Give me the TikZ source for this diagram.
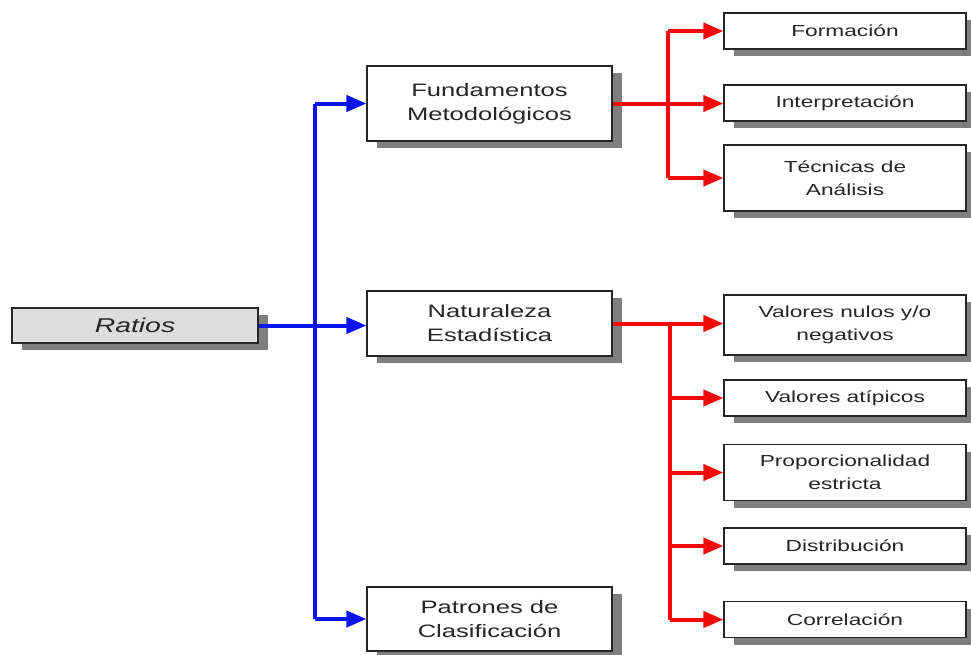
\documentclass[tikz,border=0pt]{standalone}
\usepackage{fontspec}
\setmainfont{Liberation Sans}[FakeStretch=1.42]
\usetikzlibrary{arrows.meta,shadows}
\definecolor{txt}{HTML}{262626}
\definecolor{shd}{HTML}{7F7F7F}
\definecolor{rfill}{HTML}{DDDDDD}
\definecolor{bblue}{HTML}{0A14F0}
\definecolor{rred}{HTML}{F20A0A}
\begin{document}
\begin{tikzpicture}[x=1pt,y=-1pt,
  box/.style={draw=black!85, line width=1.1pt, fill=white, text=txt, align=center,
    inner sep=0pt, minimum width=245pt,
    drop shadow={shadow xshift=10pt, shadow yshift=-7pt, fill=shd, opacity=1}},
  mainbox/.style={box, font=\fontsize{18}{24}\selectfont},
  subbox/.style={box, minimum width=242pt, font=\fontsize{16}{23}\selectfont},
  bline/.style={draw=bblue, line width=4pt},
  rline/.style={draw=rred, line width=4pt},
  barr/.style={bline, -{Triangle[length=20pt,width=16pt]}},
  rarr/.style={rline, -{Triangle[length=20pt,width=16pt]}},
]
\useasboundingbox (0,0) rectangle (971,654);
% left
\node[box, minimum width=246pt, minimum height=35pt, fill=rfill, font=\fontsize{20}{24}\selectfont\itshape] (ratios) at (135,325.5) {Ratios};
% middle column
\node[mainbox, minimum height=75pt] (fund) at (489.5,103.5) {Fundamentos\\Metodológicos};
\node[mainbox, minimum height=65pt] (nat) at (489.5,323.5) {Naturaleza\\Estadística};
\node[mainbox, minimum height=64pt] (pat) at (489.5,619) {Patrones de\\Clasificación};
% right column
\node[subbox, minimum height=36pt] (form) at (845,31) {Formación};
\node[subbox, minimum height=36pt] (interp) at (845,103) {Interpretación};
\node[subbox, minimum height=66pt] (tec) at (845,178) {Técnicas de\\Análisis};
\node[subbox, minimum height=60pt] (nul) at (845,325) {Valores nulos y/o\\negativos};
\node[subbox, minimum height=36pt] (atip) at (845,398) {Valores atípicos};
\node[subbox, minimum height=56pt] (prop) at (845,472.5) {Proporcionalidad\\estricta};
\node[subbox, minimum height=36pt] (dist) at (845,546) {Distribución};
\node[subbox, minimum height=36pt] (corr) at (845,619.5) {Correlación};
% buses
\coordinate (bbus) at (315,0);
\coordinate (rbus1) at (668,0);
\coordinate (rbus2) at (670,0);
% blue connectors
\draw[bline] (fund.west -| bbus) -- (pat.west -| bbus);
\draw[barr] (ratios.east) -- (ratios.east -| nat.west);
\draw[barr] (fund.west -| bbus) -- (fund.west);
\draw[barr] (pat.west -| bbus) -- (pat.west);
% red connectors, upper
\draw[rline] (form.west -| rbus1) -- (tec.west -| rbus1);
\draw[rarr] (fund.east) -- (fund.east -| interp.west);
\draw[rarr] (form.west -| rbus1) -- (form.west);
\draw[rarr] (tec.west -| rbus1) -- (tec.west);
% red connectors, lower
\draw[rline] (nat.east -| rbus2) -- (corr.west -| rbus2);
\draw[rarr] (nat.east) -- (nat.east -| nul.west);
\draw[rarr] (atip.west -| rbus2) -- (atip.west);
\draw[rarr] (prop.west -| rbus2) -- (prop.west);
\draw[rarr] (dist.west -| rbus2) -- (dist.west);
\draw[rarr] (corr.west -| rbus2) -- (corr.west);
\end{tikzpicture}
\end{document}
